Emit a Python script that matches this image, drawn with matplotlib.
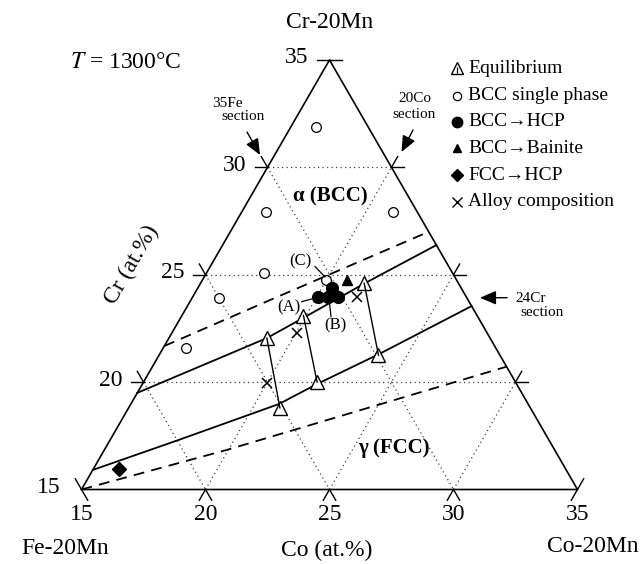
import numpy as np
import matplotlib
matplotlib.use("Agg")
import matplotlib.pyplot as plt
from matplotlib.patches import FancyArrowPatch

plt.rcParams['font.family'] = ['Liberation Serif', 'DejaVu Serif']
plt.rcParams['mathtext.fontset'] = 'stix'

W, H = 643, 564

# --- data (Co at.%, Cr at.%) ---
bcc_co = [16.0, 16.0, 21.1, 17.3, 16.1, 15.9, 20.0]
bcc_cr = [31.9, 27.9, 27.9, 25.1, 23.9, 21.6, 24.75]

hcp_co = [20.05, 20.45, 20.85, 20.4]
hcp_cr = [23.95, 23.95, 23.95, 24.4]

bainite_co = [20.85]
bainite_cr = [24.75]

fcc_hcp_co = [16.05]
fcc_hcp_cr = [15.95]

alloy_co = [20.0, 20.05, 21.65]
alloy_cr = [19.95, 22.3, 23.95]

# tie lines: equilibrium BCC side -> FCC side
eq_bcc_co = [18.95, 19.9, 21.6]
eq_bcc_cr = [22.05, 23.1, 24.6]
eq_fcc_co = [21.1, 22.0, 23.85]
eq_fcc_cr = [18.8, 20.0, 21.25]

# phase boundaries
upper_solid_co = [15.0, 18.95, 19.94, 21.63, 23.62]
upper_solid_cr = [19.5, 22.05, 22.98, 24.61, 26.38]
lower_solid_co = [15.0, 17.75, 20.97, 22.04, 23.85, 26.46]
lower_solid_cr = [15.91, 17.30, 18.98, 19.91, 21.31, 23.54]
upper_dash_co = [15.0, 18.19, 23.0]
upper_dash_cr = [21.68, 23.82, 27.0]
lower_dash_co = [15.0, 19.93, 29.28]
lower_dash_cr = [15.0, 16.84, 20.72]

ticks = [15, 20, 25, 30, 35]


def tern(co, cr):
    co = np.asarray(co, float)
    cr = np.asarray(cr, float)
    r = cr - 15
    c = co - 15
    return c + r / 2, r * np.sqrt(3) / 2


def fp(px, py):
    return px / W, 1 - py / H


fig = plt.figure(figsize=(W / 100, H / 100), dpi=100)
ax = fig.add_axes([0, 0, 1, 1])
ax.set_xlim(-81.5 / 24.8, (W - 81.5) / 24.8)
ax.set_ylim(-(H - 489.5) / 24.8, 489.5 / 24.8)
ax.axis('off')

# triangle frame
fx, fy = tern([15, 35, 15, 15], [15, 15, 35, 15])
ax.plot(fx, fy, color='black', lw=1.2, zorder=3)

# dotted grid
dot = dict(color='0.25', lw=0.9, ls=(0, (1, 2.6)), zorder=1)
for v in [20, 25, 30]:
    x, y = tern([15, 50 - v], [v, v])          # constant Cr
    ax.plot(x, y, **dot)
    x, y = tern([v, v], [15, 50 - v])          # constant Co
    ax.plot(x, y, **dot)
    s = v + 15
    x, y = tern([15, s - 15], [s - 15, 15])    # constant Fe
    ax.plot(x, y, **dot)

# tick marks: outward extensions of grid directions
L = 0.5
dirs = [(1.0, 0.0), (0.5, np.sqrt(3) / 2), (-0.5, np.sqrt(3) / 2)]


def inside(x, y):
    return y > 1e-6 and y < np.sqrt(3) * x - 1e-6 and y < np.sqrt(3) * (20 - x) - 1e-6


pts = []
for t in ticks:
    pts.append((t, 15))
    pts.append((15, t))
    pts.append((50 - t, t))
for co, cr in set(pts):
    px, py = tern(co, cr)
    for dx, dy in dirs:
        for sgn in (1, -1):
            ex, ey = px + sgn * L * dx, py + sgn * L * dy
            mx, my = px + sgn * 0.1 * dx, py + sgn * 0.1 * dy
            on_edge = (abs(my) < 1e-6 or abs(my - np.sqrt(3) * mx) < 1e-6
                       or abs(my - np.sqrt(3) * (20 - mx)) < 1e-6)
            if not inside(mx, my) and not on_edge:
                ax.plot([px, ex], [py, ey], color='black', lw=1.0, zorder=3)

# boundaries
for co, cr, ls in [(upper_solid_co, upper_solid_cr, '-'),
                   (lower_solid_co, lower_solid_cr, '-'),
                   (upper_dash_co, upper_dash_cr, (0, (6, 4))),
                   (lower_dash_co, lower_dash_cr, (0, (6, 4)))]:
    x, y = tern(co, cr)
    ax.plot(x, y, color='black', lw=1.3, ls=ls, zorder=2)

# tie lines and equilibrium triangles
bx, by = tern(eq_bcc_co, eq_bcc_cr)
gx, gy = tern(eq_fcc_co, eq_fcc_cr)
for i in range(len(bx)):
    ax.plot([bx[i], gx[i]], [by[i], gy[i]], color='black', lw=1.0, zorder=5)
ax.plot(np.r_[bx, gx], np.r_[by, gy], ls='none', marker='^', ms=10,
        mfc='white', mec='black', mew=1.0, zorder=4)

x, y = tern(bcc_co, bcc_cr)
ax.plot(x, y, ls='none', marker='o', ms=7, mfc='white', mec='black', mew=0.9, zorder=6)
x, y = tern(hcp_co, hcp_cr)
ax.plot(x, y, ls='none', marker='o', ms=8.5, color='black', zorder=6)
x, y = tern(bainite_co, bainite_cr)
ax.plot(x, y, ls='none', marker='^', ms=6.5, color='black', zorder=6)
x, y = tern(fcc_hcp_co, fcc_hcp_cr)
ax.plot(x, y, ls='none', marker='D', ms=7, color='black', zorder=6)
x, y = tern(alloy_co, alloy_cr)
ax.plot(x, y, ls='none', marker='x', ms=7.5, color='black', mew=1.1, zorder=6)

# leaders for (A), (B), (C)
for (x0, y0), (x1, y1) in [((301.7, 301.7), (313.3, 298.5)),
                           ((329.3, 301.5), (331.0, 316.5)),
                           ((315.0, 266.5), (325.0, 277.0))]:
    ax.plot([fp(x0, y0)[0], fp(x1, y1)[0]], [fp(x0, y0)[1], fp(x1, y1)[1]],
            color='black', lw=0.9, transform=fig.transFigure, zorder=6)

# text
big = 17
fig.text(*fp(330, 23), 'Cr-20Mn', fontsize=big, ha='center', va='center')
fig.text(*fp(65, 548), 'Fe-20Mn', fontsize=big, ha='center', va='center')
fig.text(*fp(593, 547), 'Co-20Mn', fontsize=big, ha='center', va='center')
fig.text(*fp(327, 550), 'Co (at.%)', fontsize=big, ha='center', va='center')
fig.text(*fp(132, 265), 'Cr (at.%)', fontsize=big, ha='center', va='center', rotation=60)
fig.text(*fp(126, 63), '$T$ = 1300°C', fontsize=big, ha='center', va='center')

for t in ticks:
    x, y = tern(t, 15)
    fig.text(*fp(81.5 + 24.8 * x, 515), str(t), fontsize=big, ha='center', va='center')
    x, y = tern(15, t)
    fig.text(*fp(81.5 + 24.8 * x - 21, 489.5 - 24.8 * y - 2), str(t),
             fontsize=big, ha='right', va='center')

fig.text(*fp(330, 196), 'α (BCC)', fontsize=15, fontweight='bold', ha='center', va='center')
fig.text(*fp(394, 448), 'γ (FCC)', fontsize=15, fontweight='bold', ha='center', va='center')

fig.text(*fp(289, 307), '(A)', fontsize=12, ha='center', va='center')
fig.text(*fp(335.5, 325), '(B)', fontsize=12, ha='center', va='center')
fig.text(*fp(300, 261.5), '(C)', fontsize=12, ha='center', va='center')

small = 11
fig.text(*fp(227, 103), '35Fe', fontsize=small, ha='center', va='center')
fig.text(*fp(243, 117), 'section', fontsize=small, ha='center', va='center')
fig.text(*fp(415, 99), '20Co', fontsize=small, ha='center', va='center')
fig.text(*fp(414, 114), 'section', fontsize=small, ha='center', va='center')
fig.text(*fp(531, 298), '24Cr', fontsize=small, ha='center', va='center')
fig.text(*fp(542.5, 313), 'section', fontsize=small, ha='center', va='center')

for tail, head in [((247, 132), (260, 155)), ((413, 130), (401.5, 152)),
                   ((507, 297.7), (480, 297.7))]:
    fig.patches.append(FancyArrowPatch(
        fp(*tail), fp(*head), transform=fig.transFigure,
        arrowstyle='-|>,head_length=0.7,head_width=0.3', mutation_scale=14,
        color='black', lw=1.0, shrinkA=0, shrinkB=0))

# legend
leg_y = [68.3, 95.7, 121.7, 148.3, 175, 201.7]
leg_txt = ['Equilibrium', 'BCC single phase', 'BCC→HCP', 'BCC→Bainite',
           'FCC→HCP', 'Alloy composition']
leg_mk = [dict(marker='^', ms=8, mfc='white', mec='black', mew=1.0),
          dict(marker='o', ms=6, mfc='white', mec='black', mew=0.9),
          dict(marker='o', ms=7.5, color='black'),
          dict(marker='^', ms=5.5, color='black'),
          dict(marker='D', ms=6.5, color='black'),
          dict(marker='x', ms=6.5, color='black', mew=1.0)]
for yy, tx, mk in zip(leg_y, leg_txt, leg_mk):
    ax.plot([fp(457.3, yy)[0]], [fp(457.3, yy)[1]], ls='none',
            transform=fig.transFigure, clip_on=False, **mk)
    fig.text(*fp(468, yy), tx, fontsize=14, ha='left', va='center')
ax.plot([fp(457.3, 69.5)[0]], [fp(457.3, 69.5)[1]], ls='none', marker='|', ms=4,
        mew=0.9, color='black', transform=fig.transFigure, clip_on=False)

fig.savefig('out.png', dpi=100)
